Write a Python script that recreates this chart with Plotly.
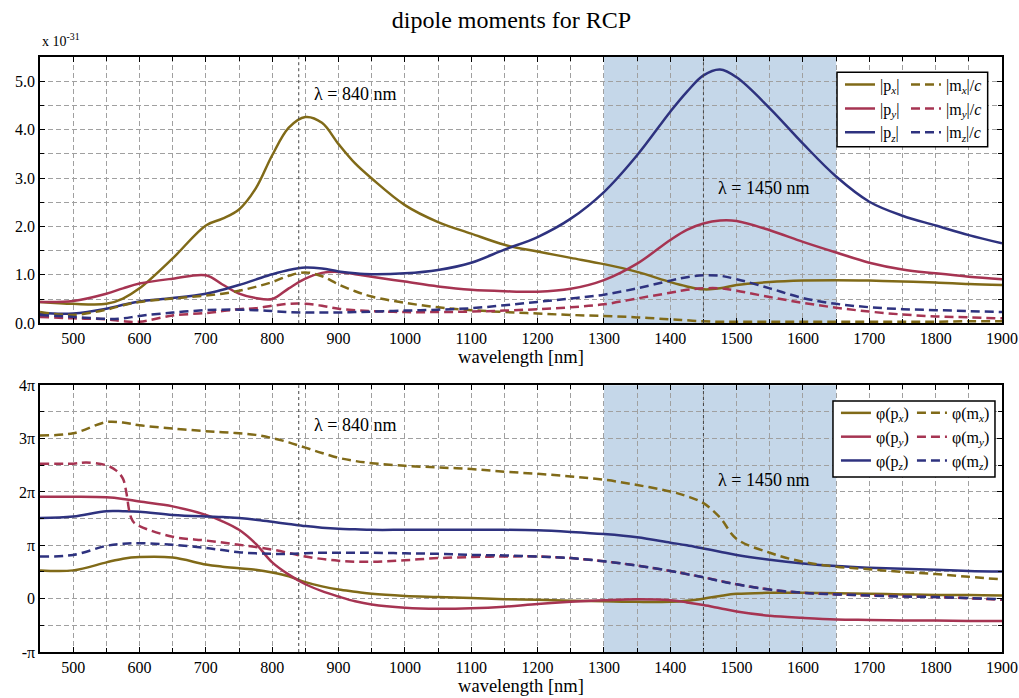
import plotly.graph_objects as go

# ---------------- data ----------------
WL = [450, 500, 550, 575, 600, 650, 700, 725, 750, 775, 800, 825, 850, 875, 900, 925, 950,
      1000, 1050, 1100, 1150, 1200, 1250, 1300, 1350, 1400, 1425, 1450, 1475, 1500,
      1550, 1600, 1650, 1700, 1750, 1800, 1850, 1900]

# magnitudes (x 1e-31)
abs_px = [0.44, 0.40, 0.40, 0.51, 0.72, 1.34, 2.02, 2.16, 2.35, 2.78, 3.47, 4.04, 4.26, 4.14, 3.70, 3.30, 2.99,
          2.44, 2.09, 1.85, 1.62, 1.48, 1.35, 1.22, 1.06, 0.85, 0.76, 0.70, 0.72, 0.79,
          0.85, 0.88, 0.89, 0.88, 0.86, 0.84, 0.81, 0.79]
abs_py = [0.44, 0.46, 0.61, 0.72, 0.82, 0.92, 0.99, 0.80, 0.61, 0.52, 0.50, 0.72, 0.92, 1.04, 1.06, 1.01, 0.96,
          0.86, 0.76, 0.69, 0.66, 0.65, 0.71, 0.89, 1.23, 1.72, 1.93, 2.06, 2.12, 2.11,
          1.92, 1.68, 1.46, 1.25, 1.11, 1.03, 0.96, 0.91]
abs_pz = [0.21, 0.20, 0.30, 0.38, 0.45, 0.52, 0.61, 0.69, 0.79, 0.90, 1.01, 1.10, 1.15, 1.13, 1.07, 1.03, 1.01,
          1.03, 1.10, 1.25, 1.52, 1.78, 2.16, 2.71, 3.47, 4.37, 4.78, 5.12, 5.24, 5.08,
          4.44, 3.71, 3.03, 2.51, 2.22, 2.02, 1.82, 1.65]
abs_mx = [0.23, 0.17, 0.28, 0.37, 0.44, 0.51, 0.57, 0.61, 0.67, 0.75, 0.85, 0.98, 1.05, 0.97, 0.80, 0.66, 0.55,
          0.42, 0.33, 0.27, 0.23, 0.20, 0.17, 0.15, 0.12, 0.08, 0.06, 0.04, 0.03, 0.03,
          0.03, 0.03, 0.03, 0.03, 0.03, 0.03, 0.04, 0.04]
abs_my = [0.13, 0.10, 0.08, 0.04, 0.03, 0.16, 0.21, 0.25, 0.29, 0.31, 0.36, 0.40, 0.40, 0.36, 0.30, 0.27, 0.25,
          0.23, 0.23, 0.24, 0.26, 0.29, 0.33, 0.39, 0.51, 0.63, 0.69, 0.72, 0.72, 0.67,
          0.54, 0.42, 0.32, 0.24, 0.18, 0.14, 0.12, 0.10]
abs_mz = [0.17, 0.13, 0.09, 0.10, 0.15, 0.22, 0.27, 0.28, 0.28, 0.27, 0.25, 0.23, 0.22, 0.22, 0.22, 0.23, 0.24,
          0.26, 0.28, 0.31, 0.37, 0.44, 0.51, 0.59, 0.72, 0.88, 0.95, 0.99, 0.98, 0.91,
          0.72, 0.52, 0.40, 0.33, 0.29, 0.27, 0.25, 0.23]

# phases (in units of pi)
ph_px = [0.53, 0.53, 0.68, 0.75, 0.78, 0.77, 0.64, 0.60, 0.57, 0.54, 0.49, 0.42, 0.31, 0.23, 0.17, 0.13, 0.09,
         0.05, 0.03, 0.01, -0.01, -0.02, -0.04, -0.05, -0.06, -0.06, -0.04, 0.00, 0.05, 0.09,
         0.11, 0.11, 0.10, 0.09, 0.08, 0.07, 0.07, 0.06]
ph_py = [1.91, 1.91, 1.90, 1.87, 1.82, 1.73, 1.57, 1.45, 1.29, 1.03, 0.68, 0.45, 0.27, 0.14, 0.04, -0.05, -0.11,
         -0.17, -0.19, -0.18, -0.15, -0.10, -0.06, -0.03, -0.01, -0.03, -0.07, -0.12, -0.18, -0.24,
         -0.32, -0.36, -0.39, -0.40, -0.41, -0.41, -0.42, -0.42]
ph_pz = [1.51, 1.54, 1.64, 1.64, 1.63, 1.57, 1.54, 1.53, 1.51, 1.48, 1.44, 1.40, 1.36, 1.33, 1.31, 1.30, 1.29,
         1.29, 1.29, 1.29, 1.29, 1.28, 1.25, 1.21, 1.15, 1.05, 1.00, 0.94, 0.88, 0.82,
         0.73, 0.66, 0.61, 0.58, 0.56, 0.54, 0.52, 0.51]
ph_mx = [3.06, 3.10, 3.31, 3.30, 3.25, 3.19, 3.14, 3.12, 3.10, 3.07, 3.01, 2.93, 2.83, 2.73, 2.64, 2.58, 2.54,
         2.49, 2.46, 2.43, 2.38, 2.34, 2.29, 2.23, 2.13, 2.01, 1.92, 1.79, 1.52, 1.12,
         0.86, 0.69, 0.60, 0.55, 0.50, 0.46, 0.41, 0.36]
WL_MY = [450, 500, 520, 550, 565, 575, 580, 585, 590, 600, 650, 700, 750, 800, 850, 900, 950,
         1000, 1050, 1100, 1150, 1200, 1250, 1300, 1350, 1400, 1450, 1500, 1550, 1600, 1650,
         1700, 1800, 1900]
ph_my = [2.53, 2.53, 2.55, 2.50, 2.40, 2.25, 2.00, 1.62, 1.45, 1.36, 1.16, 1.09, 1.01, 0.92, 0.79, 0.71, 0.69,
         0.72, 0.76, 0.78, 0.79, 0.79, 0.76, 0.70, 0.62, 0.52, 0.40, 0.27, 0.17, 0.11, 0.08,
         0.06, 0.03, -0.02]
ph_mz = [0.79, 0.82, 0.99, 1.03, 1.04, 1.01, 0.95, 0.91, 0.87, 0.85, 0.84, 0.84, 0.85, 0.86, 0.86, 0.86, 0.86,
         0.85, 0.84, 0.82, 0.81, 0.79, 0.76, 0.70, 0.62, 0.52, 0.46, 0.40, 0.33, 0.27,
         0.17, 0.11, 0.08, 0.06, 0.04, 0.03, 0.01, -0.01]

PHASE_TICKS = [-1, 0, 1, 2, 3, 4]
PHASE_LABELS = ['-π', '0', 'π', '2π', '3π', '4π']
MARKED_WL = [840, 1450]
BAND = [1300, 1650]

# ---------------- style ----------------
OLIVE = '#806a18'
CRIMSON = '#a63452'
NAVY = '#2e327f'
FONT = 'Liberation Serif, Times New Roman, serif'
DASH = '9px,5px'
LW = 2.5

fig = go.Figure()

top = [
    (WL, abs_px, OLIVE, 'solid', '|p<sub><i>x</i></sub>|', 'legend'),
    (WL, abs_py, CRIMSON, 'solid', '|p<sub><i>y</i></sub>|', 'legend'),
    (WL, abs_pz, NAVY, 'solid', '|p<sub><i>z</i></sub>|', 'legend'),
    (WL, abs_mx, OLIVE, DASH, '|m<sub><i>x</i></sub>|/<i>c</i>', 'legend2'),
    (WL, abs_my, CRIMSON, DASH, '|m<sub><i>y</i></sub>|/<i>c</i>', 'legend2'),
    (WL, abs_mz, NAVY, DASH, '|m<sub><i>z</i></sub>|/<i>c</i>', 'legend2'),
]
bot = [
    (WL, ph_px, OLIVE, 'solid', 'φ(p<sub><i>x</i></sub>)', 'legend3'),
    (WL, ph_py, CRIMSON, 'solid', 'φ(p<sub><i>y</i></sub>)', 'legend3'),
    (WL, ph_pz, NAVY, 'solid', 'φ(p<sub><i>z</i></sub>)', 'legend3'),
    (WL, ph_mx, OLIVE, DASH, 'φ(m<sub><i>x</i></sub>)', 'legend4'),
    (WL_MY, ph_my, CRIMSON, DASH, 'φ(m<sub><i>y</i></sub>)', 'legend4'),
    (WL, ph_mz, NAVY, DASH, 'φ(m<sub><i>z</i></sub>)', 'legend4'),
]
for xs, ys, c, d, name, lg in top:
    fig.add_trace(go.Scatter(x=xs, y=ys, mode='lines', name=name, legend=lg,
                             line=dict(color=c, dash=d, width=LW, shape='spline', smoothing=1.0),
                             xaxis='x', yaxis='y'))
for xs, ys, c, d, name, lg in bot:
    fig.add_trace(go.Scatter(x=xs, y=ys, mode='lines', name=name, legend=lg,
                             line=dict(color=c, dash=d, width=LW, shape='spline', smoothing=1.0),
                             xaxis='x2', yaxis='y2'))

grid = dict(gridcolor='#a0a0a0', griddash='5px,3px', gridwidth=1)
axis_common = dict(showline=True, linecolor='black', linewidth=1.5, mirror='ticks',
                   ticks='inside', ticklen=5, tickcolor='black', zeroline=False, automargin=False,
                   tickfont=dict(family=FONT, size=16, color='black'), **grid)
xcommon = dict(range=[450, 1900], dtick=100, tick0=0,
               minor=dict(dtick=50, showgrid=True, ticks='inside', ticklen=4, tickcolor='black', **grid),
               title=dict(text='wavelength [nm]', font=dict(family=FONT, size=18.5, color='black'), standoff=1),
               **axis_common)

fig.update_layout(
    width=1019, height=698,
    margin=dict(l=40, r=17, t=57, b=46),
    paper_bgcolor='white', plot_bgcolor='white',
    title=dict(text='dipole moments for RCP', x=0.502, xanchor='center', y=0.972, yanchor='middle',
               xref='container', yref='container', font=dict(family=FONT, size=24, color='black')),
    xaxis=dict(domain=[0, 1], anchor='y', **xcommon),
    xaxis2=dict(domain=[0, 1], anchor='y2', **xcommon),
    yaxis=dict(domain=[0.5526, 1], anchor='x', range=[0, 5.5], dtick=1, tickformat='.1f',
               minor=dict(dtick=0.5, showgrid=True, ticks='inside', ticklen=4, tickcolor='black', **grid),
               **axis_common),
    yaxis2=dict(domain=[0, 0.4483], anchor='x2', range=[-1, 4], tickvals=PHASE_TICKS,
                ticktext=PHASE_LABELS,
                minor=dict(dtick=0.5, showgrid=True, ticks='inside', ticklen=4, tickcolor='black', **grid),
                **axis_common),
    showlegend=True,
)

leg_common = dict(xanchor='left', yanchor='top', bgcolor='rgba(0,0,0,0)', borderwidth=0,
                  font=dict(family=FONT, size=16, color='black'), itemwidth=30, tracegroupgap=0,
                  orientation='v', traceorder='normal')
fig.update_layout(
    legend=dict(x=0.8316, y=0.982, **leg_common),
    legend2=dict(x=0.9002, y=0.982, **leg_common),
    legend3=dict(x=0.8274, y=0.4303, **leg_common),
    legend4=dict(x=0.9064, y=0.4303, **leg_common),
)

shapes = []
for xr, yr in (('x', 'y'), ('x2', 'y2')):
    shapes.append(dict(type='rect', xref=xr, yref=yr + ' domain', x0=BAND[0], x1=BAND[1], y0=0, y1=1,
                       fillcolor='#c5d7e9', line=dict(width=0), layer='below'))
    for w in MARKED_WL:
        shapes.append(dict(type='line', xref=xr, yref=yr + ' domain', x0=w, x1=w, y0=0, y1=1,
                           line=dict(color='#444444', width=1, dash='dot'), layer='above'))
# legend boxes
shapes.append(dict(type='rect', xref='paper', yref='paper', x0=0.8285, x1=0.9851, y0=0.8491, y1=0.9743,
                   fillcolor='white', line=dict(color='black', width=1.5), layer='above'))
shapes.append(dict(type='rect', xref='paper', yref='paper', x0=0.8243, x1=0.9927, y0=0.2940, y1=0.4219,
                   fillcolor='white', line=dict(color='black', width=1.5), layer='above'))
fig.update_layout(shapes=shapes)

ann_font = dict(family=FONT, size=18, color='black')
fig.update_layout(annotations=[
    dict(text='x 10<sup>-31</sup>', xref='paper', yref='paper', x=0, y=1.029, xanchor='left',
         yanchor='middle', showarrow=False, font=dict(family=FONT, size=14, color='black')),
    dict(text='λ = 840 nm', xref='x', yref='y', x=860, y=4.73, xanchor='left', yanchor='middle',
         showarrow=False, font=ann_font),
    dict(text='λ = 1450 nm', xref='x', yref='y', x=1469, y=2.79, xanchor='left', yanchor='middle',
         showarrow=False, font=ann_font),
    dict(text='λ = 840 nm', xref='x2', yref='y2', x=860, y=3.25, xanchor='left', yanchor='middle',
         showarrow=False, font=ann_font),
    dict(text='λ = 1450 nm', xref='x2', yref='y2', x=1469, y=2.22, xanchor='left', yanchor='middle',
         showarrow=False, font=ann_font),
])

fig.write_html('out.html', config={'displayModeBar': False},
               post_script="document.body.style.margin='0';")
